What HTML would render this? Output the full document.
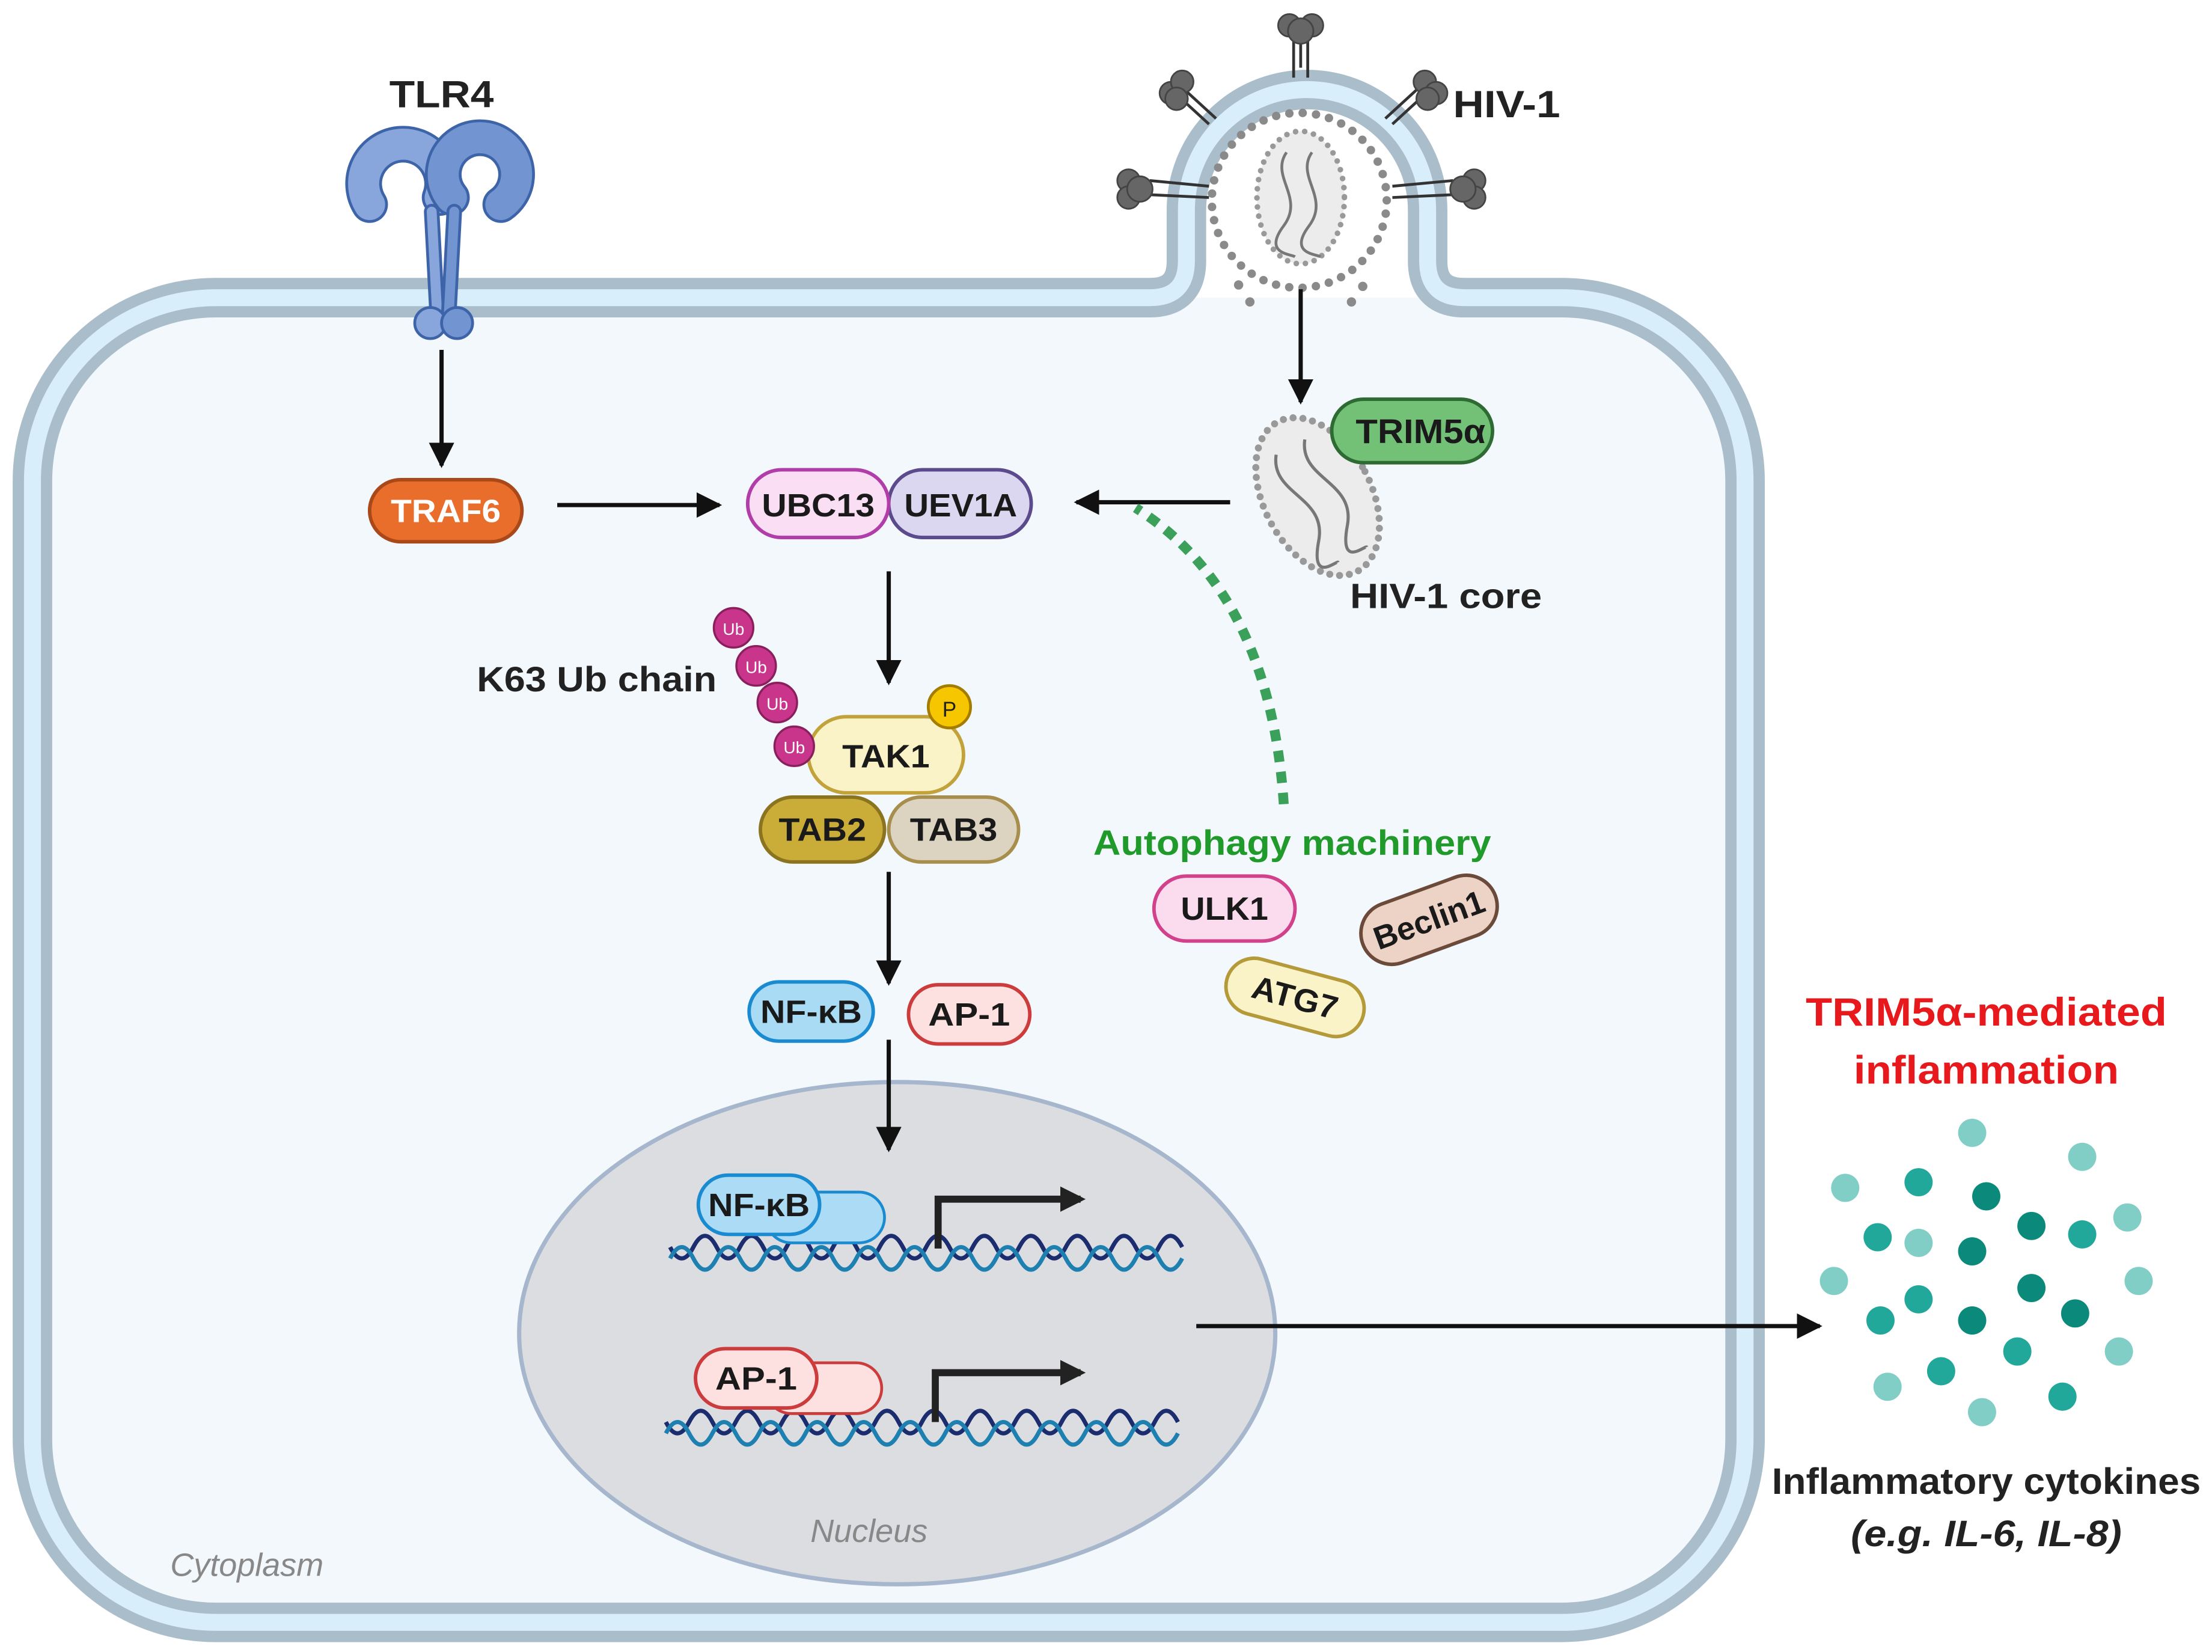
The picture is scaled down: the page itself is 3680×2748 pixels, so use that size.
<!DOCTYPE html>
<html><head><meta charset="utf-8"><style>
html,body{margin:0;padding:0;background:#fff;}
svg{display:block;}
text{font-family:"Liberation Sans",sans-serif;font-weight:bold;}
text.n{font-weight:normal;}
</style></head><body>
<svg width="3680" height="2748" viewBox="0 0 1568 1171" preserveAspectRatio="none" xmlns="http://www.w3.org/2000/svg">
<defs>
<marker id="ah" viewBox="0 0 10 10" refX="9" refY="5" markerWidth="6" markerHeight="6" orient="auto" markerUnits="strokeWidth">
<path d="M0,0 L10,5 L0,10 Z" fill="#111"/></marker>
<marker id="ah2" viewBox="0 0 10 10" refX="8" refY="5" markerWidth="3.6" markerHeight="4" orient="auto" markerUnits="strokeWidth">
<path d="M0,0 L10,5 L0,10 Z" fill="#222"/></marker>
</defs>

<path d="M153,211 H1107 A130 130 0 0 1 1237,341 V1020 A130 130 0 0 1 1107,1150 H153 A130 130 0 0 1 23,1020 V341 A130 130 0 0 1 153,211 Z" fill="#f3f8fc"/>
<g fill="none">
<path d="M153,211 H815 Q841,211 841,185 V149 A85.5 85.5 0 0 1 1012,149 V185 Q1012,211 1038,211 H1107 A130 130 0 0 1 1237,341 V1020 A130 130 0 0 1 1107,1150 H153 A130 130 0 0 1 23,1020 V341 A130 130 0 0 1 153,211 Z" stroke="#aabdcb" stroke-width="28"/>
<path d="M153,211 H815 Q841,211 841,185 V149 A85.5 85.5 0 0 1 1012,149 V185 Q1012,211 1038,211 H1107 A130 130 0 0 1 1237,341 V1020 A130 130 0 0 1 1107,1150 H153 A130 130 0 0 1 23,1020 V341 A130 130 0 0 1 153,211 Z" stroke="#d9eefb" stroke-width="12"/>
</g>

<g stroke="#333" stroke-width="2">
<line x1="917" y1="55" x2="917" y2="25"/><line x1="922" y1="48" x2="922" y2="25"/><line x1="927" y1="55" x2="927" y2="25"/>
<line x1="862" y1="84" x2="838" y2="62"/><line x1="857" y1="88" x2="833" y2="66"/>
<line x1="982" y1="84" x2="1006" y2="62"/><line x1="987" y1="88" x2="1011" y2="66"/>
<line x1="857" y1="132" x2="815" y2="128"/><line x1="857" y1="140" x2="815" y2="138"/>
<line x1="987" y1="132" x2="1030" y2="128"/><line x1="987" y1="140" x2="1030" y2="138"/>
</g>
<g fill="#666" stroke="#444" stroke-width="1.2">
<circle cx="914" cy="18" r="8"/><circle cx="930" cy="18" r="8"/><circle cx="922" cy="22" r="9"/>
<circle cx="830" cy="66" r="8"/><circle cx="838" cy="58" r="8"/><circle cx="834" cy="70" r="8"/>
<circle cx="1010" cy="58" r="8"/><circle cx="1018" cy="66" r="8"/><circle cx="1012" cy="70" r="8"/>
<circle cx="800" cy="128" r="8"/><circle cx="800" cy="140" r="8"/><circle cx="808" cy="134" r="9"/>
<circle cx="1045" cy="128" r="8"/><circle cx="1045" cy="140" r="8"/><circle cx="1037" cy="134" r="9"/>
</g>
<circle cx="921" cy="142" r="62" fill="none" stroke="#8a8a8a" stroke-width="6" stroke-linecap="round" stroke-dasharray="0 9.5"/>
<g fill="#8a8a8a"><circle cx="878" cy="202" r="3.3"/><circle cx="886" cy="214" r="3.3"/><circle cx="958" cy="214" r="3.3"/><circle cx="966" cy="203" r="3.3"/></g>
<ellipse cx="922" cy="140" rx="31" ry="47" fill="#ececec" stroke="#999" stroke-width="4" stroke-dasharray="0 6.5" stroke-linecap="round"/>
<g fill="none" stroke="#777" stroke-width="2">
<path d="M912,108 C900,125 925,140 910,160 S915,180 918,182"/>
<path d="M930,108 C918,125 943,140 928,160 S933,180 936,182"/>
</g>

<g stroke-linecap="round" fill="none">
<path d="M262,145 A28 28 0 1 1 312,140" stroke="#3d64a8" stroke-width="26"/>
<path d="M262,145 A28 28 0 1 1 312,140" stroke="#88a6dc" stroke-width="22"/>
<path d="M355,145 A26 26 0 1 0 320,140" stroke="#3d64a8" stroke-width="26"/>
<path d="M355,145 A26 26 0 1 0 320,140" stroke="#7294d0" stroke-width="22"/>
<path d="M306,150 L310,225" stroke="#3d64a8" stroke-width="11"/>
<path d="M306,150 L310,225" stroke="#88a6dc" stroke-width="7"/>
<path d="M322,150 L318,225" stroke="#3d64a8" stroke-width="11"/>
<path d="M322,150 L318,225" stroke="#7294d0" stroke-width="7"/>
</g>
<g stroke="#3d64a8" stroke-width="2"><circle cx="305" cy="229" r="11" fill="#88a6dc"/><circle cx="324" cy="229" r="11" fill="#7294d0"/></g>
<text x="313" y="76" font-size="27" text-anchor="middle" fill="#222" textLength="74" lengthAdjust="spacingAndGlyphs">TLR4</text>
<text x="1030" y="83" font-size="27" fill="#222" textLength="76" lengthAdjust="spacingAndGlyphs">HIV-1</text>

<!-- nucleus -->
<ellipse cx="636" cy="945" rx="268" ry="178" fill="#dcdde1" stroke="#a6b6cc" stroke-width="3"/>
<text class="n" x="616" y="1093" font-size="23" text-anchor="middle" fill="#888" font-style="italic">Nucleus</text>
<text class="n" x="175" y="1117" font-size="23" text-anchor="middle" fill="#888" font-style="italic">Cytoplasm</text>

<g stroke="#111" stroke-width="3" fill="none" marker-end="url(#ah)">
<line x1="313" y1="248" x2="313" y2="330"/>
<line x1="395" y1="358" x2="510" y2="358"/>
<line x1="872" y1="356" x2="763" y2="356"/>
<line x1="922" y1="205" x2="922" y2="285"/>
<line x1="630" y1="405" x2="630" y2="484"/>
<line x1="630" y1="618" x2="630" y2="697"/>
<line x1="630" y1="737" x2="630" y2="815"/>
<line x1="848" y1="940" x2="1290" y2="940"/>
</g>
<path d="M910,570 Q900,420 805,360" fill="none" stroke="#3aa05a" stroke-width="7" stroke-dasharray="8 7"/>

<g transform="rotate(-28 934 352)">
<ellipse cx="934" cy="352" rx="38" ry="60" fill="#ececec" stroke="#999" stroke-width="5" stroke-dasharray="0 7" stroke-linecap="round"/>
<g fill="none" stroke="#777" stroke-width="2.2">
<path d="M922,312 C905,335 940,355 920,380 S925,398 925,400"/>
<path d="M945,312 C928,335 963,355 943,380 S948,398 948,400"/>
</g></g>
<rect x="944" y="283" width="114" height="45" rx="22.5" fill="#72c177" stroke="#2e6b33" stroke-width="2.5"/>
<text x="1007" y="314" font-size="24" text-anchor="middle" fill="#1a1a1a" textLength="92" lengthAdjust="spacingAndGlyphs">TRIM5α</text>
<text x="1025" y="431" font-size="25" text-anchor="middle" fill="#222" textLength="136" lengthAdjust="spacingAndGlyphs">HIV-1 core</text>

<rect x="262" y="340" width="108" height="44" rx="22" fill="#ea6e2b" stroke="#a9491a" stroke-width="2.5"/>
<text x="316" y="370" font-size="23" text-anchor="middle" fill="#fff" textLength="78" lengthAdjust="spacingAndGlyphs">TRAF6</text>
<rect x="630" y="333" width="101" height="48" rx="24" fill="#dcd7f1" stroke="#5b4a8c" stroke-width="2.5"/>
<rect x="530" y="333" width="100" height="48" rx="24" fill="#fadff4" stroke="#b13da8" stroke-width="2.5"/>
<text x="580" y="366" font-size="23" text-anchor="middle" fill="#1a1a1a" textLength="80" lengthAdjust="spacingAndGlyphs">UBC13</text>
<text x="681" y="366" font-size="23" text-anchor="middle" fill="#1a1a1a" textLength="80" lengthAdjust="spacingAndGlyphs">UEV1A</text>

<rect x="630" y="565" width="92" height="46" rx="23" fill="#dcd3c1" stroke="#a88e4c" stroke-width="2.5"/>
<rect x="539" y="565" width="88" height="46" rx="23" fill="#c9ad38" stroke="#8a7420" stroke-width="2.5"/>
<text x="583" y="596" font-size="23" text-anchor="middle" fill="#1a1a1a" textLength="62" lengthAdjust="spacingAndGlyphs">TAB2</text>
<text x="676" y="596" font-size="23" text-anchor="middle" fill="#1a1a1a" textLength="62" lengthAdjust="spacingAndGlyphs">TAB3</text>
<rect x="573" y="508" width="110" height="54" rx="27" fill="#fbf3c8" stroke="#c2a23b" stroke-width="2.5"/>
<text x="628" y="544" font-size="23" text-anchor="middle" fill="#1a1a1a" textLength="62" lengthAdjust="spacingAndGlyphs">TAK1</text>
<circle cx="673" cy="501" r="15" fill="#f6c600" stroke="#a37c00" stroke-width="2"/>
<text class="n" x="673" y="508" font-size="15" text-anchor="middle" fill="#222">P</text>
<g fill="#c8358b" stroke="#8a1f5e" stroke-width="1.5">
<circle cx="520" cy="445" r="14"/><circle cx="536" cy="472" r="14"/><circle cx="551" cy="498" r="14"/><circle cx="563" cy="529" r="14"/>
</g>
<g font-size="12" fill="#fff" text-anchor="middle">
<text class="n" x="520" y="450">Ub</text><text class="n" x="536" y="477">Ub</text><text class="n" x="551" y="503">Ub</text><text class="n" x="563" y="534">Ub</text></g>
<text x="508" y="490" font-size="25" text-anchor="end" fill="#222" textLength="170" lengthAdjust="spacingAndGlyphs">K63 Ub chain</text>

<rect x="531" y="696" width="88" height="42" rx="21" fill="#aadbf5" stroke="#1a8bd1" stroke-width="2.5"/>
<text x="575" y="725" font-size="23" text-anchor="middle" fill="#1a1a1a" textLength="72" lengthAdjust="spacingAndGlyphs">NF-κB</text>
<rect x="644" y="698" width="86" height="42" rx="21" fill="#fde0e0" stroke="#cc3c3c" stroke-width="2.5"/>
<text x="687" y="727" font-size="23" text-anchor="middle" fill="#1a1a1a" textLength="58" lengthAdjust="spacingAndGlyphs">AP-1</text>

<text x="916" y="606" font-size="25" text-anchor="middle" fill="#1f9a2b" textLength="282" lengthAdjust="spacingAndGlyphs">Autophagy machinery</text>
<rect x="818" y="621" width="100" height="46" rx="23" fill="#fbdcef" stroke="#d2428c" stroke-width="2.5"/>
<text x="868" y="652" font-size="23" text-anchor="middle" fill="#1a1a1a" textLength="62" lengthAdjust="spacingAndGlyphs">ULK1</text>
<g transform="rotate(-20 1013 652)">
<rect x="963" y="630" width="100" height="44" rx="22" fill="#ecd3c6" stroke="#6b4a3a" stroke-width="2.5"/>
<text x="1013" y="660" font-size="23" text-anchor="middle" fill="#1a1a1a" textLength="82" lengthAdjust="spacingAndGlyphs">Beclin1</text></g>
<g transform="rotate(15 918 707)">
<rect x="868" y="687" width="100" height="40" rx="20" fill="#fbf3c8" stroke="#b59a3a" stroke-width="2.5"/>
<text x="918" y="715" font-size="23" text-anchor="middle" fill="#1a1a1a" textLength="62" lengthAdjust="spacingAndGlyphs">ATG7</text></g>

<g fill="none" stroke-width="3">
<path d="M475,880 q8.25,16 16.5,0 t16.5,0 t16.5,0 t16.5,0 t16.5,0 t16.5,0 t16.5,0 t16.5,0 t16.5,0 t16.5,0 t16.5,0 t16.5,0 t16.5,0 t16.5,0 t16.5,0 t16.5,0 t16.5,0 t16.5,0 t16.5,0 t16.5,0 t16.5,0 t16.5,0" transform="translate(0,4)" stroke="#1b2d6e"/>
<path d="M475,896 q8.25,-16 16.5,0 t16.5,0 t16.5,0 t16.5,0 t16.5,0 t16.5,0 t16.5,0 t16.5,0 t16.5,0 t16.5,0 t16.5,0 t16.5,0 t16.5,0 t16.5,0 t16.5,0 t16.5,0 t16.5,0 t16.5,0 t16.5,0 t16.5,0 t16.5,0 t16.5,0" transform="translate(0,-4)" stroke="#1e80b0"/>
<path d="M472,1004 q8.25,16 16.5,0 t16.5,0 t16.5,0 t16.5,0 t16.5,0 t16.5,0 t16.5,0 t16.5,0 t16.5,0 t16.5,0 t16.5,0 t16.5,0 t16.5,0 t16.5,0 t16.5,0 t16.5,0 t16.5,0 t16.5,0 t16.5,0 t16.5,0 t16.5,0 t16.5,0" transform="translate(0,4)" stroke="#1b2d6e"/>
<path d="M472,1020 q8.25,-16 16.5,0 t16.5,0 t16.5,0 t16.5,0 t16.5,0 t16.5,0 t16.5,0 t16.5,0 t16.5,0 t16.5,0 t16.5,0 t16.5,0 t16.5,0 t16.5,0 t16.5,0 t16.5,0 t16.5,0 t16.5,0 t16.5,0 t16.5,0 t16.5,0 t16.5,0" transform="translate(0,-4)" stroke="#1e80b0"/>
</g>
<g fill="none" stroke="#222" stroke-width="5" marker-end="url(#ah2)">
<path d="M665,885 V850 H766"/>
<path d="M663,1008 V973 H766"/>
</g>
<rect x="543" y="845" width="84" height="36" rx="18" fill="#acdcf5" stroke="#1a8bd1" stroke-width="2"/>
<rect x="495" y="833" width="86" height="42" rx="21" fill="#acdcf5" stroke="#1a8bd1" stroke-width="2.5"/>
<text x="538" y="862" font-size="23" text-anchor="middle" fill="#1a1a1a" textLength="72" lengthAdjust="spacingAndGlyphs">NF-κB</text>
<rect x="543" y="966" width="82" height="36" rx="18" fill="#fde0e0" stroke="#cc3c3c" stroke-width="2"/>
<rect x="493" y="956" width="86" height="42" rx="21" fill="#fde0e0" stroke="#cc3c3c" stroke-width="2.5"/>
<text x="536" y="985" font-size="23" text-anchor="middle" fill="#1a1a1a" textLength="58" lengthAdjust="spacingAndGlyphs">AP-1</text>

<text x="1408" y="727" font-size="28" text-anchor="middle" fill="#e8191c" textLength="256" lengthAdjust="spacingAndGlyphs">TRIM5α-mediated</text>
<text x="1408" y="768" font-size="28" text-anchor="middle" fill="#e8191c" textLength="188" lengthAdjust="spacingAndGlyphs">inflammation</text>
<g>
<circle cx="1398" cy="803" r="10" fill="#80cec5"/><circle cx="1476" cy="820" r="10" fill="#80cec5"/>
<circle cx="1308" cy="842" r="10" fill="#80cec5"/><circle cx="1360" cy="838" r="10" fill="#22a89a"/>
<circle cx="1408" cy="848" r="10" fill="#0b8a7b"/><circle cx="1508" cy="863" r="10" fill="#80cec5"/>
<circle cx="1331" cy="877" r="10" fill="#22a89a"/><circle cx="1360" cy="881" r="10" fill="#80cec5"/>
<circle cx="1398" cy="887" r="10" fill="#0b8a7b"/><circle cx="1440" cy="869" r="10" fill="#0b8a7b"/>
<circle cx="1476" cy="875" r="10" fill="#22a89a"/><circle cx="1300" cy="908" r="10" fill="#80cec5"/>
<circle cx="1360" cy="921" r="10" fill="#22a89a"/><circle cx="1440" cy="913" r="10" fill="#0b8a7b"/>
<circle cx="1516" cy="908" r="10" fill="#80cec5"/><circle cx="1333" cy="936" r="10" fill="#22a89a"/>
<circle cx="1398" cy="936" r="10" fill="#0b8a7b"/><circle cx="1471" cy="931" r="10" fill="#0b8a7b"/>
<circle cx="1430" cy="958" r="10" fill="#22a89a"/><circle cx="1502" cy="958" r="10" fill="#80cec5"/>
<circle cx="1376" cy="972" r="10" fill="#22a89a"/><circle cx="1338" cy="983" r="10" fill="#80cec5"/>
<circle cx="1405" cy="1001" r="10" fill="#80cec5"/><circle cx="1462" cy="990" r="10" fill="#22a89a"/>
</g>
<text x="1408" y="1059" font-size="26" text-anchor="middle" fill="#222" textLength="304" lengthAdjust="spacingAndGlyphs">Inflammatory cytokines</text>
<text x="1408" y="1096" font-size="26" text-anchor="middle" fill="#222" font-style="italic" textLength="192" lengthAdjust="spacingAndGlyphs">(e.g. IL-6, IL-8)</text>
</svg>
</body></html>
